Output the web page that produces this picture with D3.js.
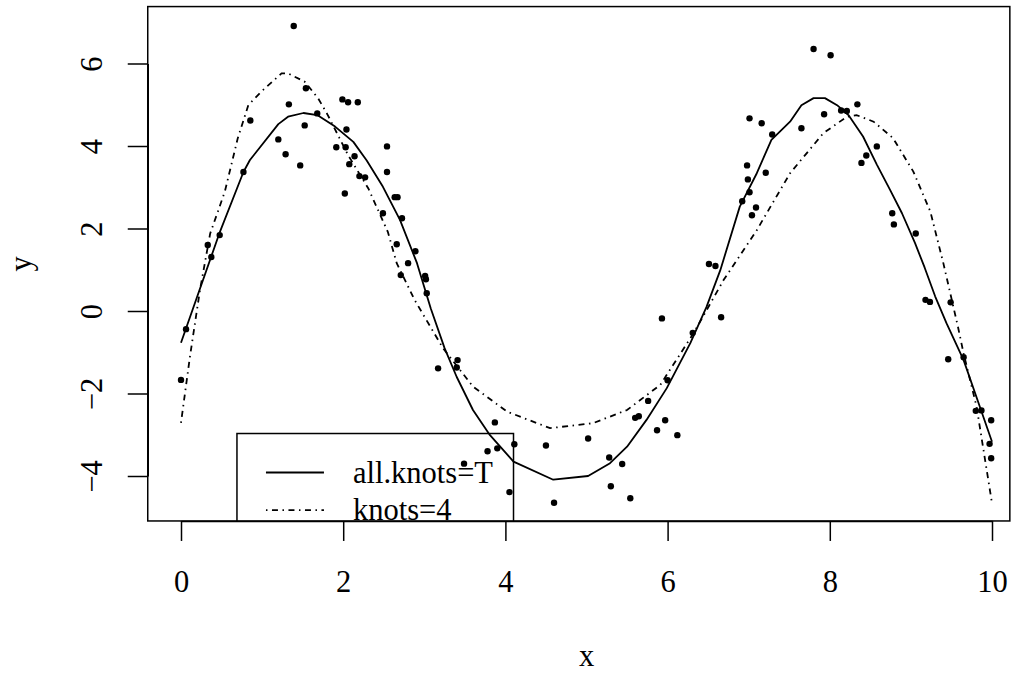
<!DOCTYPE html>
<html>
<head>
<meta charset="utf-8">
<script src="https://cdn.jsdelivr.net/npm/d3@7"></script>
<style>
body { margin: 0; background: #fff; }
svg { display: block; }
text { font-family: "Liberation Serif", "Times New Roman", serif; fill: #000; }
</style>
</head>
<body>
<svg id="chart" width="1016" height="673"></svg>
<script>
// observed points
var px = [0.0, 0.062, 0.33, 0.374, 0.477, 0.77, 0.855, 1.20, 1.29, 1.33,
          1.39, 1.47, 1.525, 1.54, 1.68, 1.915, 1.99, 2.02, 2.03, 2.04,
          2.06, 2.075, 2.14, 2.18, 2.20, 2.27, 2.49, 2.54, 2.54, 2.635,
          2.67, 2.66, 2.725, 2.71, 2.80, 2.89, 3.01, 3.02, 3.03, 3.17,
          3.40, 3.41, 3.49, 3.78, 3.87, 3.90, 4.05, 4.11, 4.50, 4.60,
          5.02, 5.28, 5.30, 5.44, 5.54, 5.60, 5.645, 5.76, 5.87, 5.93,
          5.97, 6.00, 6.12, 6.31, 6.51, 6.59, 6.66, 6.92, 6.98, 6.99,
          7.01, 7.01, 7.04, 7.09, 7.16, 7.21, 7.29, 7.65, 7.80, 7.93,
          8.01, 8.14, 8.21, 8.34, 8.39, 8.45, 8.58, 8.77, 8.79, 9.06,
          9.18, 9.235, 9.49, 9.46, 9.65, 9.80, 9.87, 9.99, 9.97, 9.99]
var py = [-1.67, -0.44, 1.60, 1.31, 1.84, 3.37, 4.62, 4.16, 3.80, 5.01,
          6.91, 3.53, 4.50, 5.40, 4.79, 3.97, 5.13, 2.85, 3.97, 4.40,
          5.06, 3.56, 3.75, 5.06, 3.27, 3.24, 2.37, 3.99, 3.37, 2.76,
          2.76, 1.62, 2.25, 0.87, 1.16, 1.45, 0.85, 0.77, 0.43, -1.39,
          -1.37, -1.19, -3.70, -3.40, -2.70, -3.33, -4.39, -3.23, -3.26, -4.65,
          -3.09, -3.55, -4.25, -3.71, -4.54, -2.59, -2.55, -2.18, -2.89, -0.18,
          -2.65, -1.68, -3.01, -0.53, 1.14, 1.09, -0.15, 2.66, 3.53, 3.19,
          4.67, 2.88, 2.32, 2.51, 4.55, 3.35, 4.28, 4.43, 6.35, 4.77,
          6.20, 4.86, 4.85, 5.01, 3.59, 3.77, 3.99, 2.37, 2.10, 1.88,
          0.27, 0.22, 0.21, -1.17, -1.12, -2.42, -2.41, -2.65, -3.22, -3.57]

// fit with all.knots=T (solid)
var fitAllX = [0, 0.48, 0.77, 0.85, 1.20, 1.32, 1.51, 1.68, 1.90, 2.125,
               2.29, 2.49, 2.70, 2.91, 3.08, 3.25, 3.40, 3.60, 3.81, 4.10,
               4.59, 5.02, 5.29, 5.50, 5.74, 5.99, 6.28, 6.48, 6.65, 6.89,
               7.10, 7.28, 7.51, 7.65, 7.80, 7.94, 8.09, 8.23, 8.41, 8.58,
               8.74, 8.89, 9.05, 9.17, 9.30, 9.44, 9.65, 9.85, 10.0]
var fitAllY = [-0.77, 1.92, 3.37, 3.66, 4.53, 4.71, 4.80, 4.75, 4.47, 4.10,
               3.65, 3.01, 2.21, 1.16, 0.06, -0.90, -1.60, -2.40, -3.01, -3.65,
               -4.09, -4.00, -3.69, -3.29, -2.64, -1.87, -0.78, 0.10, 0.99, 2.53,
               3.34, 4.15, 4.59, 4.99, 5.16, 5.16, 4.99, 4.75, 4.23, 3.55,
               2.95, 2.37, 1.65, 1.05, 0.35, -0.30, -1.19, -2.32, -3.17]

// fit with knots=4 (dot-dash)
var fit4X = [0, 0.11, 0.234, 0.36, 0.54, 0.70, 0.83, 0.99, 1.24, 1.32,
             1.525, 1.69, 1.81, 2.06, 2.31, 2.55, 2.66, 2.88, 3.23, 3.60,
             4.02, 4.55, 5.08, 5.50, 5.91, 6.32, 6.69, 7.10, 7.51, 7.92,
             8.21, 8.33, 8.54, 8.78, 9.03, 9.24, 9.40, 9.58, 9.65, 9.81, 10.0]
var fit4Y = [-2.71, -1.11, 0.51, 1.88, 2.89, 4.19, 4.99, 5.32, 5.76, 5.76,
             5.56, 5.16, 4.75, 3.78, 2.97, 1.92, 1.16, 0.27, -0.90, -1.83,
             -2.44, -2.84, -2.72, -2.40, -1.79, -0.54, 0.75, 1.96, 3.34, 4.31,
             4.71, 4.75, 4.59, 4.19, 3.38, 2.41, 1.16, -0.38, -1.03, -2.32, -4.66]

var xTicks = [0, 2, 4, 6, 8, 10]
var yTicks = [-4, -2, 0, 2, 4, 6]
var xLim = [-0.41, 10.22]
var yLim = [-5.09, 7.38]
var legendLabels = ["all.knots=T", "knots=4"]
var legendDash = [null, "1.5,4.5,6,4.5"]

var svg = d3.select("#chart")
var fontSize = 30.5

var x = d3.scaleLinear().domain([0, 10]).range([181, 992])
var y = d3.scaleLinear().domain([-4, 6]).range([476, 63.5])

var boxL = x(xLim[0]), boxR = x(xLim[1]), boxT = y(yLim[1]), boxB = y(yLim[0])

svg.append("clipPath").attr("id", "plotclip")
    .append("rect")
    .attr("x", boxL).attr("y", boxT)
    .attr("width", boxR - boxL).attr("height", boxB - boxT)

var plot = svg.append("g").attr("clip-path", "url(#plotclip)")

// fitted curves
var line = d3.line().x(d => x(d[0])).y(d => y(d[1]))

plot.append("path")
    .datum(d3.zip(fitAllX, fitAllY))
    .attr("d", line)
    .attr("fill", "none").attr("stroke", "#000").attr("stroke-width", 1.8)
    .attr("stroke-linejoin", "round")

plot.append("path")
    .datum(d3.zip(fit4X, fit4Y))
    .attr("d", line)
    .attr("fill", "none").attr("stroke", "#000").attr("stroke-width", 1.8)
    .attr("stroke-dasharray", legendDash[1])

// points
plot.append("g").selectAll("circle")
    .data(d3.zip(px, py))
    .enter()
    .append("circle")
    .attr("cx", d => x(d[0]))
    .attr("cy", d => y(d[1]))
    .attr("r", 3.2)
    .attr("fill", "#000")

// legend (clipped to plot region like R)
var legX = x(0.69), legY = y(-2.97)
var legend = plot.append("g")
legend.append("rect")
    .attr("x", legX).attr("y", legY)
    .attr("width", x(4.1) - legX).attr("height", 120)
    .attr("fill", "none").attr("stroke", "#000").attr("stroke-width", 1.5)

legendLabels.forEach(function(lab, i) {
    var ly = legY + 39 + i * 37.7
    legend.append("line")
        .attr("x1", legX + 29).attr("x2", legX + 87)
        .attr("y1", ly).attr("y2", ly)
        .attr("stroke", "#000").attr("stroke-width", 1.8)
        .attr("stroke-dasharray", legendDash[i])
    legend.append("text")
        .attr("x", legX + 116).attr("y", ly)
        .attr("dy", "0.33em")
        .style("font-size", fontSize + "px")
        .text(lab)
})

// box
svg.append("rect")
    .attr("x", boxL).attr("y", boxT)
    .attr("width", boxR - boxL).attr("height", boxB - boxT)
    .attr("fill", "none").attr("stroke", "#000").attr("stroke-width", 1.5)

// axes
var xAxis = svg.append("g")
    .attr("transform", "translate(0," + boxB + ")")
    .call(d3.axisBottom(x).tickValues(xTicks).tickSize(20).tickSizeOuter(0).tickFormat(d3.format("d")))
var yAxis = svg.append("g")
    .attr("transform", "translate(" + boxL + ",0)")
    .call(d3.axisLeft(y).tickValues(yTicks).tickSize(20).tickSizeOuter(0).tickFormat(d3.format("d")))

svg.selectAll(".domain").attr("stroke-width", 1.5)
svg.selectAll(".tick line").attr("stroke-width", 1.5)
xAxis.attr("font-family", null).attr("font-size", null)
yAxis.attr("font-family", null).attr("font-size", null)

xAxis.selectAll("text")
    .attr("y", 71).attr("dy", null)
    .style("font-size", fontSize + "px")

yAxis.selectAll("text")
    .attr("transform", "rotate(-90)")
    .attr("x", 0).attr("y", -46).attr("dy", null)
    .attr("text-anchor", "middle")
    .style("font-size", fontSize + "px")

// titles
svg.append("text")
    .attr("x", (x(-0.41) + x(10.41)) / 2).attr("y", boxB + 145)
    .attr("text-anchor", "middle")
    .style("font-size", fontSize + "px")
    .text("x")

svg.append("text")
    .attr("transform", "translate(" + (boxL - 117) + "," + ((boxT + boxB) / 2) + ") rotate(-90)")
    .attr("text-anchor", "middle")
    .style("font-size", fontSize + "px")
    .text("y")
</script>
</body>
</html>
